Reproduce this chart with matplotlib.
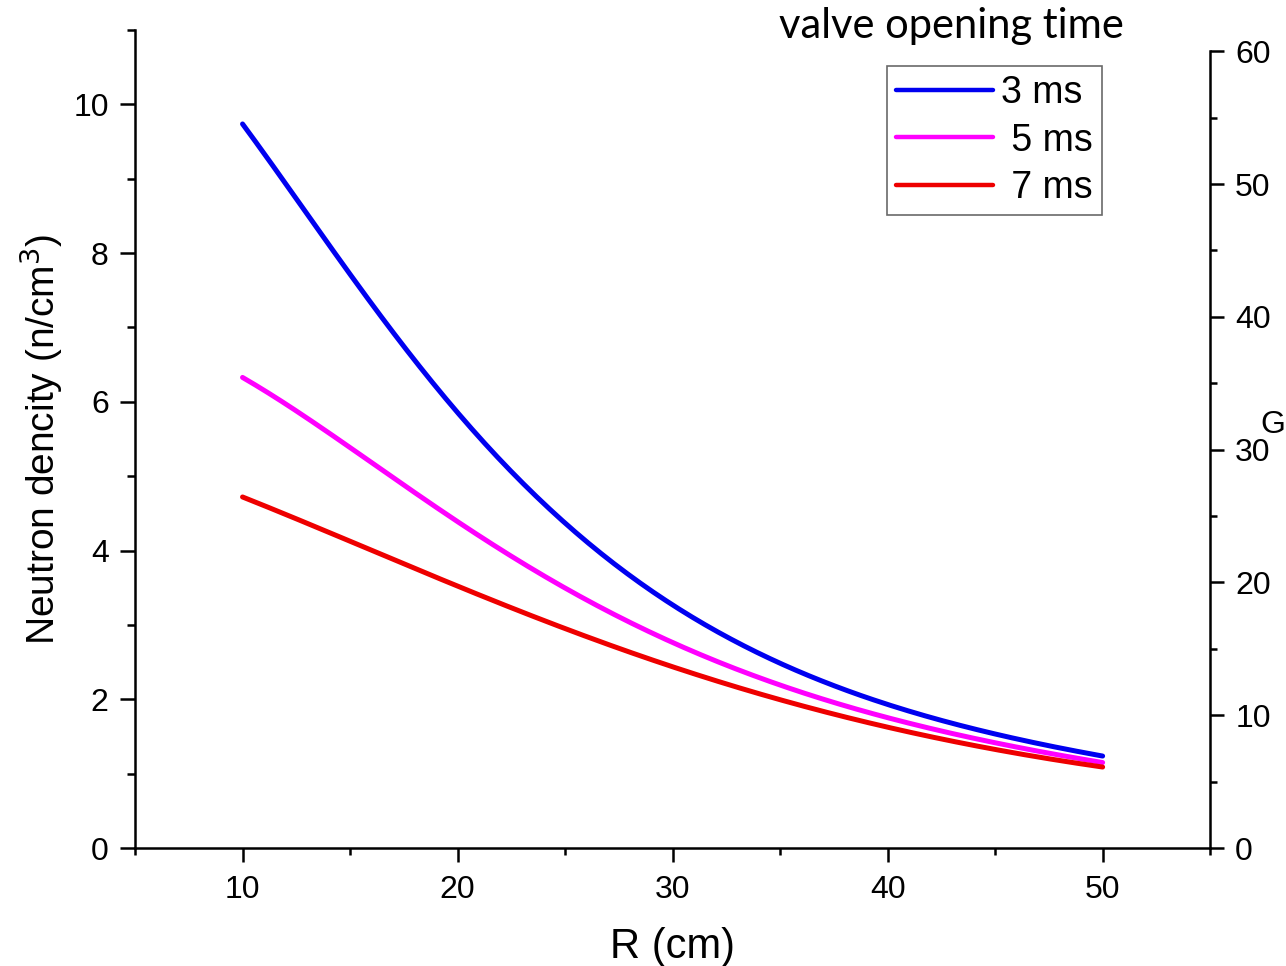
import numpy as np
import matplotlib.pyplot as plt
from matplotlib.ticker import MultipleLocator

# radius values (cm)
r_cm = [10, 15, 20, 25, 30, 35, 40, 45, 50]

# neutron density for each valve opening time
dens_3ms = [9.72, 7.75, 5.85, 4.35, 3.27, 2.50, 1.93, 1.53, 1.24]
dens_5ms = [6.34, 5.35, 4.42, 3.50, 2.75, 2.20, 1.75, 1.42, 1.15]
dens_7ms = [4.72, 4.13, 3.52, 2.95, 2.44, 2.00, 1.62, 1.33, 1.09]

labels = ['3 ms', ' 5 ms', ' 7 ms']
colors = ['#0000f0', '#ff00ff', '#ee0000']

plt.rcParams['font.family'] = ['Liberation Sans', 'DejaVu Sans']

fig = plt.figure(figsize=(12.86, 9.66), dpi=100)
ax = fig.add_axes([0.105, 0.122, 0.836, 0.847])

# smooth the curves between the read points
x_fine = np.linspace(10, 50, 200)
for ys, lab, c in zip([dens_3ms, dens_5ms, dens_7ms], labels, colors):
    coef = np.polyfit(r_cm, np.log(ys), 4)
    ax.plot(x_fine, np.exp(np.polyval(coef, x_fine)), color=c, lw=3.6,
            solid_capstyle='round', label=lab)

ax.set_xlim(5, 55)
ax.set_ylim(0, 11)
ax.xaxis.set_major_locator(MultipleLocator(10))
ax.xaxis.set_minor_locator(MultipleLocator(5))
ax.yaxis.set_major_locator(MultipleLocator(2))
ax.yaxis.set_minor_locator(MultipleLocator(1))

ax.spines['top'].set_visible(False)
ax.spines['right'].set_visible(False)
for s in ['left', 'bottom']:
    ax.spines[s].set_linewidth(1.8)

ax.tick_params(which='major', direction='out', length=10, width=1.8, labelsize=23, pad=9)
ax.tick_params(which='minor', direction='out', length=5, width=1.8)
ax.tick_params(axis='y', which='major', length=11, pad=8)
ax.tick_params(axis='y', which='minor', length=6)

ax.set_xlabel('R (cm)', fontsize=30, labelpad=16)
ax.set_ylabel('Neutron dencity (n/cm$^3$)', fontsize=28, labelpad=6)

# right axis
ax2 = ax.twinx()
ax2.set_ylim(0, 61.6)
ax2.yaxis.set_major_locator(MultipleLocator(10))
ax2.yaxis.set_minor_locator(MultipleLocator(5))
for s in ['top', 'left', 'bottom']:
    ax2.spines[s].set_visible(False)
ax2.spines['right'].set_linewidth(1.8)
ax2.spines['right'].set_bounds(0, 60)
ax2.tick_params(which='major', direction='out', length=10, width=1.8, labelsize=23, pad=8)
ax2.tick_params(which='minor', direction='out', length=5, width=1.8)
ax2.set_ylabel('G', fontsize=23, rotation=0)
ax2.yaxis.set_label_coords(1.0586, 0.535)

leg = ax.legend(loc='upper right', bbox_to_anchor=(0.8995, 0.956), fontsize=27,
                frameon=True, fancybox=False, handlelength=2.6, handletextpad=0.2,
                borderpad=0.25, labelspacing=0.3, borderaxespad=0)
leg.get_frame().set_edgecolor('#444444')
leg.get_frame().set_linewidth(1.2)
for line in leg.get_lines():
    line.set_linewidth(3.2)

fig.text(0.740, 0.973, 'valve opening time', fontsize=30, family='Lato',
         ha='center', va='center')

fig.savefig('out.png', dpi=100)
